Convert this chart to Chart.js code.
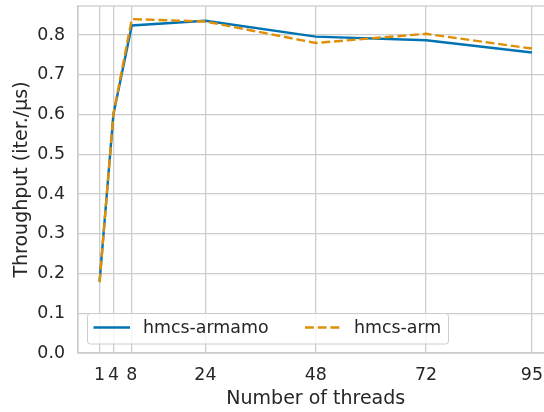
<!DOCTYPE html>
<html>
<head>
<meta charset="utf-8">
<script src="https://cdn.jsdelivr.net/npm/chart.js@4"></script>
<style>
html,body{margin:0;padding:0;background:#fff;overflow:hidden;}
#wrap{width:600px;height:412px;position:relative;}
</style>
</head>
<body>
<div id="wrap"><canvas id="c" width="600" height="412"></canvas></div>
<script>
const threads = [1, 4, 8, 24, 48, 72, 95];
const hmcsArmamo = [0.180, 0.600, 0.824, 0.836, 0.796, 0.787, 0.756];
const hmcsArm = [0.178, 0.602, 0.840, 0.834, 0.780, 0.803, 0.766];
const yTicks = [0, 0.1, 0.2, 0.3, 0.4, 0.5, 0.6, 0.7, 0.8];
const seriesNames = ['hmcs-armamo', 'hmcs-arm'];
const xTitle = 'Number of threads';
const yTitle = 'Throughput (iter./\u03bcs)';

const FONT = "'DejaVu Sans'";
const GRID = '#cccccc';
const BLUE = '#0173b2';
const ORANGE = '#de8f05';
const LW = 2.4;
const DASH = [8.9, 3.8];

const frame = {
  id: 'frame',
  afterDraw(chart) {
    const {ctx, chartArea: a} = chart;
    ctx.save();
    ctx.strokeStyle = GRID;
    ctx.lineWidth = 1.3;
    ctx.strokeRect(a.left, a.top, a.right - a.left, a.bottom - a.top);
    // legend
    const bx = 87.5, by = 313.5, bw = 361, bh = 30.5, r = 3;
    ctx.beginPath();
    ctx.roundRect(bx, by, bw, bh, r);
    ctx.fillStyle = 'rgba(255,255,255,0.8)';
    ctx.fill();
    ctx.lineWidth = 1;
    ctx.strokeStyle = '#cccccc';
    ctx.stroke();
    const ly = 327.5;
    const items = [
      {x0: 93.5, x1: 130, tx: 143, color: BLUE, dash: []},
      {x0: 305, x1: 340.5, tx: 354, color: ORANGE, dash: DASH}
    ];
    ctx.font = '17.4px ' + FONT;
    ctx.textBaseline = 'middle';
    items.forEach((it, i) => {
      ctx.beginPath();
      ctx.setLineDash(it.dash);
      ctx.strokeStyle = it.color;
      ctx.lineWidth = LW;
      ctx.moveTo(it.x0, ly);
      ctx.lineTo(it.x1, ly);
      ctx.stroke();
      ctx.setLineDash([]);
      ctx.fillStyle = '#262626';
      ctx.fillText(seriesNames[i], it.tx, ly + 1);
    });
    ctx.restore();
  }
};

new Chart(document.getElementById('c'), {
  type: 'line',
  data: {
    datasets: [
      {label: seriesNames[0], data: threads.map((t, i) => ({x: t, y: hmcsArmamo[i]})),
       borderColor: BLUE, borderWidth: LW, pointRadius: 0, tension: 0, order: 1, fill: false},
      {label: seriesNames[1], data: threads.map((t, i) => ({x: t, y: hmcsArm[i]})),
       borderColor: ORANGE, borderWidth: LW, borderDash: DASH, pointRadius: 0, tension: 0, order: 0, fill: false}
    ]
  },
  options: {
    responsive: false,
    animation: false,
    layout: {padding: {top: 6, right: 46.5, bottom: 0, left: 0}},
    plugins: {legend: {display: false}, tooltip: {enabled: false}},
    scales: {
      x: {
        type: 'linear', min: -3.7, max: 99.7,
        afterBuildTicks: s => { s.ticks = threads.map(v => ({value: v})); },
        afterFit: s => { s.height = 59; s.paddingLeft = 0; s.paddingRight = 0; },
        grid: {color: GRID, lineWidth: 1.3, drawTicks: false},
        border: {color: GRID, width: 1.3},
        ticks: {padding: 12, color: '#262626', font: {family: FONT, size: 17.4}, maxRotation: 0, autoSkip: false,
                callback: v => String(v)},
        title: {display: true, text: xTitle, color: '#262626', font: {family: FONT, size: 19}, padding: {top: 0, bottom: 2}}
      },
      y: {
        type: 'linear', min: 0, max: 0.873,
        afterBuildTicks: s => { s.ticks = yTicks.map(v => ({value: v})); },
        afterFit: s => { s.width = 78; s.paddingTop = 0; s.paddingBottom = 0; },
        grid: {color: GRID, lineWidth: 1.3, drawTicks: false},
        border: {color: GRID, width: 1.3},
        ticks: {padding: 13, color: '#262626', font: {family: FONT, size: 17.4},
                callback: v => Number(v).toFixed(1)},
        title: {display: true, text: yTitle, color: '#262626', font: {family: FONT, size: 19}, padding: {top: 11, bottom: 0}}
      }
    }
  },
  plugins: [frame]
});
</script>
</body>
</html>
